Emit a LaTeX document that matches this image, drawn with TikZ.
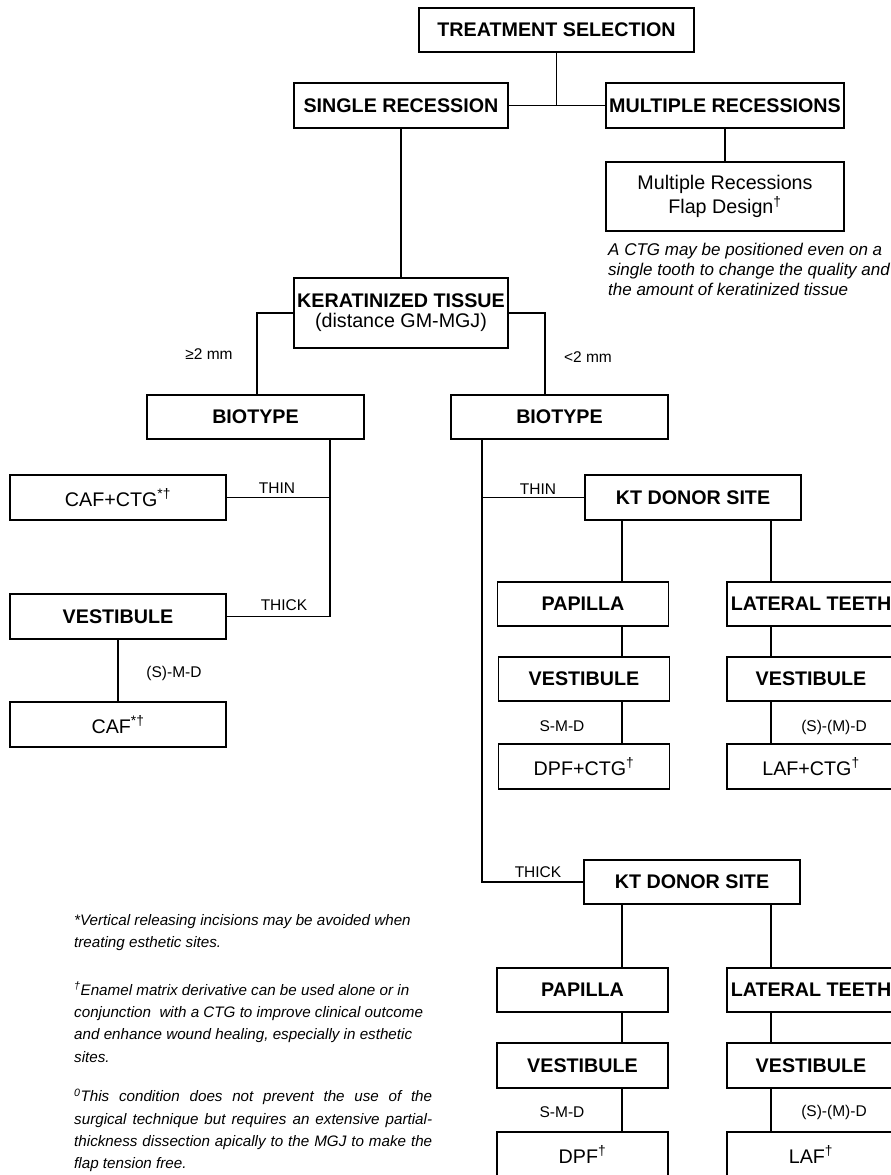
\documentclass[tikz,border=0pt]{standalone}
\usepackage{fontspec}
\setmainfont{Liberation Sans}
\begin{document}
\begin{tikzpicture}[x=1pt,y=-1pt,
  box/.style={draw,line width=1.9pt,inner sep=0pt,align=center,font=\fontsize{19.7}{23}\selectfont\bfseries},
  rbox/.style={box,font=\fontsize{19.7}{24}\selectfont},
  wide/.style={minimum width=216pt,minimum height=45pt},
  mid/.style={minimum width=171pt,minimum height=45pt},
  side/.style={minimum width=168pt,minimum height=45pt},
  conn/.style={line width=1.7pt},
  lbl/.style={font=\fontsize{15.5}{18}\selectfont,inner sep=0pt},
  note/.style={font=\fontsize{17}{20}\selectfont\itshape,inner sep=0pt,align=left},
  foot/.style={font=\fontsize{15.2}{22.3}\selectfont\itshape,inner sep=0pt,align=left,anchor=north west},
]
\useasboundingbox (0,0) rectangle (891,1175);
\clip (0,0) rectangle (891,1175);

% top level
\node[box,minimum width=275pt,minimum height=44pt] (ts) at (556.5,30) {TREATMENT SELECTION};
\node[box,minimum width=214pt,minimum height=45pt] (sr) at (401,105.5) {SINGLE RECESSION};
\node[box,minimum width=238pt,minimum height=45pt] (mr) at (725,105.5) {MULTIPLE RECESSIONS};
\node[rbox,minimum width=238pt,minimum height=69pt] (fd) at (725,196.5) {Multiple Recessions\\Flap Design\textsuperscript{†}};
\node[note,anchor=north west] (nt) at (608,243) {A CTG may be positioned even on a\\single tooth to change the quality and\\the amount of keratinized tissue};

\node[box,minimum width=214pt,minimum height=70pt] (kt) at (401,313) {KERATINIZED TISSUE\\[-3pt]{\mdseries (distance GM-MGJ)}};

\node[box,minimum width=217pt,minimum height=44pt] (bl) at (255.5,417) {BIOTYPE};
\node[box,minimum width=217pt,minimum height=44pt] (br) at (559.5,417) {BIOTYPE};

% left branch
\node[rbox,wide] (caf1) at (118,497.5) {CAF+CTG\textsuperscript{*†}};
\node[box,wide] (vl) at (118,616.5) {VESTIBULE};
\node[rbox,wide] (caf2) at (118,724.5) {CAF\textsuperscript{*†}};

% right branch, thin
\node[box,wide] (kd1) at (693,497.5) {KT DONOR SITE};
\node[box,mid,minimum height=44pt] (pap1) at (583,604) {PAPILLA};
\node[box,side,minimum height=44pt] (lat1) at (811,604) {LATERAL TEETH};
\node[box,mid,minimum height=44pt] (vp1) at (584,679) {VESTIBULE};
\node[box,side,minimum height=44pt] (vlat1) at (811,679) {VESTIBULE};
\node[rbox,mid] (dpf1) at (584,766.5) {DPF+CTG\textsuperscript{†}};
\node[rbox,side] (laf1) at (811,766.5) {LAF+CTG\textsuperscript{†}};

% right branch, thick
\node[box,wide,minimum height=44pt] (kd2) at (692,882) {KT DONOR SITE};
\node[box,mid,minimum height=44pt] (pap2) at (582.5,990) {PAPILLA};
\node[box,side,minimum height=44pt] (lat2) at (811,990) {LATERAL TEETH};
\node[box,mid] (vp2) at (582.5,1065.5) {VESTIBULE};
\node[box,side] (vlat2) at (811,1065.5) {VESTIBULE};
\node[rbox,mid] (dpf2) at (582.5,1154.5) {DPF\textsuperscript{†}};
\node[rbox,side] (laf2) at (811,1154.5) {LAF\textsuperscript{†}};

% connector x positions
\coordinate (xl) at (330,0);
\coordinate (xr) at (482,0);
\coordinate (xp) at (622,0);
\coordinate (xq) at (771,0);

% connectors
\draw[conn] (sr.east) -- (mr.west);
\draw[conn] (ts.south) -- (ts.south |- sr.east);
\draw[conn] (mr.south) -- (fd.north);
\draw[conn] (sr.south) -- (kt.north);
\draw[conn] (kt.west) -| ([xshift=1.5pt]bl.north);
\draw[conn] (kt.east) -| ([xshift=-14.5pt]br.north);

\draw[conn] (bl.south -| xl) |- (vl.east);
\draw[conn] (caf1.east) -- (caf1.east -| xl);
\draw[conn] (vl.south) -- (caf2.north);

\draw[conn] (br.south -| xr) |- (kd2.west);
\draw[conn] (kd1.west) -- (kd1.west -| xr);

\draw[conn] (kd1.south -| xp) -- (pap1.north -| xp);
\draw[conn] (kd1.south -| xq) -- (lat1.north -| xq);
\draw[conn] (pap1.south -| xp) -- (vp1.north -| xp);
\draw[conn] (lat1.south -| xq) -- (vlat1.north -| xq);
\draw[conn] (vp1.south -| xp) -- (dpf1.north -| xp);
\draw[conn] (vlat1.south -| xq) -- (laf1.north -| xq);

\draw[conn] (kd2.south -| xp) -- (pap2.north -| xp);
\draw[conn] (kd2.south -| xq) -- (lat2.north -| xq);
\draw[conn] (pap2.south -| xp) -- (vp2.north -| xp);
\draw[conn] (lat2.south -| xq) -- (vlat2.north -| xq);
\draw[conn] (vp2.south -| xp) -- (dpf2.north -| xp);
\draw[conn] (vlat2.south -| xq) -- (laf2.north -| xq);

% labels
\node[lbl] (l1) at (209,354) {≥2 mm};
\node[lbl] (l2) at (588,357) {<2 mm};
\node[lbl] (l3) at (277,488) {THIN};
\node[lbl] (l4) at (284,605) {THICK};
\node[lbl] (l5) at (174,673) {(S)-M-D};
\node[lbl] (l6) at (538,489) {THIN};
\node[lbl] (l7) at (538,872) {THICK};
\node[lbl] (l8) at (562,726) {S-M-D};
\node[lbl] (l9) at (834,727) {(S)-(M)-D};
\node[lbl] (l10) at (562,1112) {S-M-D};
\node[lbl] (l11) at (834,1112) {(S)-(M)-D};

% footnotes
\node[foot] (f1) at (74,914) {*Vertical releasing incisions may be avoided when\\treating esthetic sites.};
\node[foot] (f2) at (74,982) {\textsuperscript{†}Enamel matrix derivative can be used alone or in\\conjunction\ \ with a CTG to improve clinical outcome\\and enhance wound healing, especially in esthetic\\sites.};
\node[foot] (f3) at (74,1089) {\makebox[358pt][s]{\textsuperscript{0}This condition does not prevent the use of the}\\\makebox[358pt][s]{surgical technique but requires an extensive partial-}\\\makebox[358pt][s]{thickness dissection apically to the MGJ to make the}\\flap tension free.};
\end{tikzpicture}
\end{document}
